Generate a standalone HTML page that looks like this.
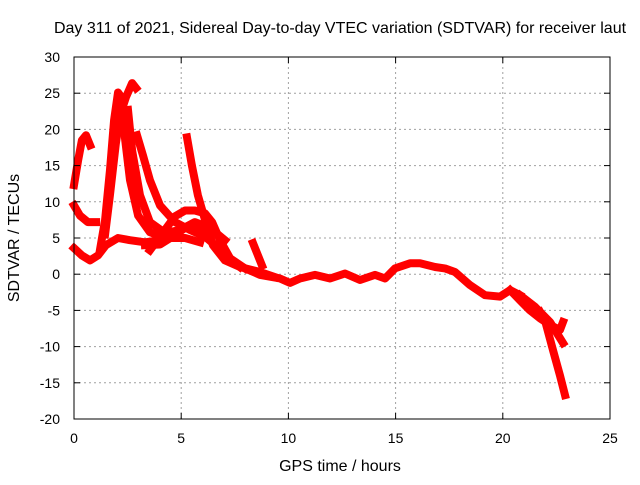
<!DOCTYPE html>
<html><head><meta charset="utf-8"><style>
body{margin:0;background:#fff}
svg text{font-family:"Liberation Sans",Arial,sans-serif;font-size:14px;fill:#000}
svg text.big{font-size:16px}
</style></head><body>
<svg id="chart" width="640" height="480">
<rect width="640" height="480" fill="#fff"/>
<g id="grid"></g>
<g id="series"></g>
<rect x="74" y="57" width="536" height="362" fill="none" stroke="#000" stroke-width="1"/>
<g id="axes"></g>
<text class="big" x="340" y="33" text-anchor="middle">Day 311 of 2021, Sidereal Day-to-day VTEC variation (SDTVAR) for receiver laut</text>
<text class="big" x="340" y="471" text-anchor="middle">GPS time / hours</text>
<text class="big" transform="translate(19,238) rotate(-90)" text-anchor="middle">SDTVAR / TECUs</text>
</svg>
<script>
const xTicks=[0,5,10,15,20,25];
const yTicks=[-20,-15,-10,-5,0,5,10,15,20,25,30];
const trackX=[
[0,0.19,0.37,0.56,0.75],
[0,0.28,0.65,1.03],
[0,0.37,0.75,1.12,1.49,2.05,2.61,3.31,4.01,4.71],
[1.21,1.45,1.68,1.87,2.05,2.15,2.33,2.61,2.99,3.54,4.24,5.18,5.88],
[1.45,1.68,1.95,2.15,2.43,2.71,2.89],
[2.52,2.71,3.08,3.54,4.24,4.94,5.64,6.34,7.04],
[2.94,3.22,3.54,4.01,4.71,5.41,6.11,6.58],
[5.27,5.50,5.78,6.11,6.48,7.04,7.74,8.68,9.38],
[3.54,4.24,4.71,5.18,5.64,6.11,6.44,6.81,7.28,7.98],
[3.31,4.01,4.71,5.18,5.50,5.88,6.34,7.04,7.74],
[7.98,8.68,9.61,10.07,10.54,11.24,11.94,12.64,13.34,14.04,14.51,14.97,15.67,16.14,16.84,17.30,17.77,18.47,19.17,19.87,20.34,20.80],
[8.35,8.77],
[20.34,20.80,21.27,21.74,22.20,22.67,22.81],
[20.80,21.50,22.20,22.81],
[21.74,21.97,22.34,22.67,22.90]
];
const trackY=[
[12.3,15.7,18.5,19.2,17.8],
[9.5,8.1,7.2,7.2],
[3.6,2.6,1.9,2.6,4.0,5.0,4.7,4.4,4.7,5.2],
[3.3,7.5,14.4,21.3,25.1,24.7,19.9,13.0,8.1,5.8,5.0,5.0,4.4],
[5.5,11.0,18.0,22.0,24.5,26.4,25.7],
[22.7,17.1,10.9,7.2,5.7,6.1,7.2,6.4,4.7],
[19.2,16.4,13.0,9.5,7.2,6.1,5.2,4.0],
[18.9,15.0,10.9,7.5,4.0,1.9,1.0,0.3,-0.4],
[3.3,6.1,8.0,8.8,8.8,8.4,7.2,4.7,2.2,0.8],
[4.0,4.1,5.4,6.4,6.9,6.1,4.7,2.6,1.0],
[0.8,-0.1,-0.6,-1.2,-0.6,-0.1,-0.6,0.1,-0.8,-0.1,-0.6,0.8,1.5,1.5,1.0,0.8,0.3,-1.5,-2.9,-3.1,-2.2,-2.9],
[4.3,1.2],
[-2.2,-3.6,-5.0,-6.1,-7.0,-7.7,-6.6],
[-2.9,-4.5,-6.6,-9.5],
[-5.2,-6.4,-10.5,-14.0,-16.7]
];
const NS="http://www.w3.org/2000/svg";
const X0=74,X1=610,Y0=419,Y1=57;
function sx(v){return X0+(v-0)/(25-0)*(X1-X0);}
function sy(v){return Y0-(v+20)/(30+20)*(Y0-Y1);}
const grid=document.getElementById('grid'),axes=document.getElementById('axes'),ser=document.getElementById('series');
function mk(t,a,p){const e=document.createElementNS(NS,t);for(const k in a)e.setAttribute(k,a[k]);p.appendChild(e);return e;}
xTicks.forEach(v=>{
  const x=sx(v);
  if(v>0&&v<25){const g=mk('line',{x1:x,x2:x,y1:Y1,y2:Y0,stroke:'#a0a0a0','stroke-dasharray':'2,3'},grid);
  
  }
  mk('line',{x1:x,x2:x,y1:Y0,y2:Y0-6,stroke:'#000'},axes);
  mk('line',{x1:x,x2:x,y1:Y1,y2:Y1+6,stroke:'#000'},axes);
  const t=mk('text',{x:x,y:443,'text-anchor':'middle'},axes);t.textContent=v;
  
  
});
yTicks.forEach(v=>{
  const y=sy(v);
  if(v>-20&&v<30){const g=mk('line',{x1:X0,x2:X1,y1:y,y2:y,stroke:'#a0a0a0','stroke-dasharray':'2,3'},grid);
  
  }
  mk('line',{x1:X0,x2:X0+6,y1:y,y2:y,stroke:'#000'},axes);
  mk('line',{x1:X1,x2:X1-6,y1:y,y2:y,stroke:'#000'},axes);
  const t=mk('text',{x:60,y:y+5,'text-anchor':'end'},axes);t.textContent=v;
  
  
});
trackX.forEach((xs,i)=>{
  const ys=trackY[i];
  const pts=xs.map((x,j)=>sx(x).toFixed(1)+','+sy(ys[j]).toFixed(1)).join(' ');
  const p=mk('polyline',{points:pts,fill:'none',stroke:'#ff0000','stroke-width':8,'stroke-linejoin':'round','stroke-linecap':'square'},ser);
  
  
});
</script>
</body></html>
